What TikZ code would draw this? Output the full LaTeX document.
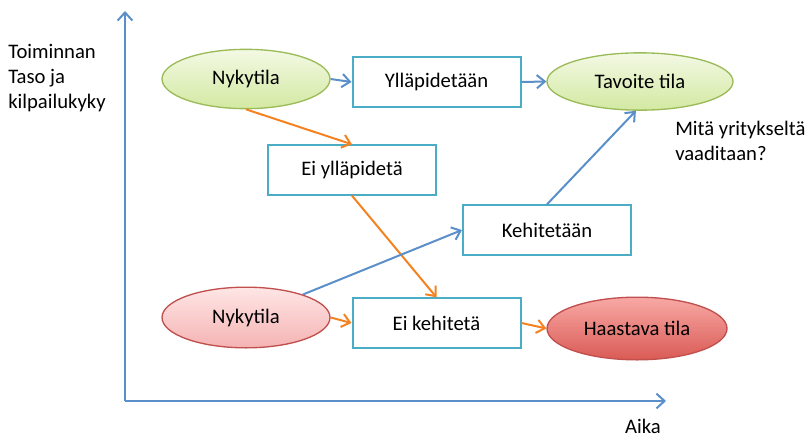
\documentclass[tikz,border=0pt]{standalone}
\usepackage{fontspec}
\setmainfont{Carlito}
\usetikzlibrary{arrows.meta,shapes.geometric}
\definecolor{axisblue}{HTML}{5B8FC9}
\definecolor{flowblue}{HTML}{5B8FC9}
\definecolor{floworange}{HTML}{F58220}
\definecolor{boxline}{HTML}{4BACC6}
\definecolor{greenline}{HTML}{9BBB59}
\definecolor{greentop}{HTML}{F3F9E4}
\definecolor{greenbot}{HTML}{D3E9A2}
\definecolor{redline}{HTML}{C0504D}
\definecolor{pinktop}{HTML}{FFE6E6}
\definecolor{pinkbot}{HTML}{F5B3B3}
\definecolor{hardtop}{HTML}{F8A9A5}
\definecolor{hardbot}{HTML}{DA5A55}
\tikzset{
  every node/.style={font=\fontsize{15.5}{18.75}\selectfont},
  stepbox/.style={draw=boxline, line width=1.5pt, fill=white, minimum width=126pt, minimum height=37pt, inner sep=0pt},
  state/.style={ellipse, line width=1pt, minimum width=126pt, minimum height=44.5pt, inner sep=0pt},
  goodstate/.style={state, draw=greenline, top color=greentop, bottom color=greenbot},
  nowstate/.style={state, draw=redline, top color=pinktop, bottom color=pinkbot, minimum height=45.5pt},
  hardstate/.style={state, draw=redline, top color=hardtop, bottom color=hardbot, minimum width=135pt, minimum height=47pt},
  bluearrow/.style={draw=flowblue, line width=1.5pt, -{Straight Barb[length=6pt,width=10pt]}},
  orangearrow/.style={draw=floworange, line width=1.5pt, -{Straight Barb[length=6pt,width=10pt]}},
  axis/.style={draw=axisblue, line width=1.5pt, -{Straight Barb[length=6pt,width=11pt]}},
  plain/.style={align=left, inner sep=0pt},
}
\begin{document}
\begin{tikzpicture}[x=0.75pt,y=-0.75pt]
\useasboundingbox (0,0) rectangle (809,439);
% axes
\coordinate (origin) at (125,401);
\coordinate (ytop) at (125,11);
\coordinate (xend) at (666,401);
\draw[axis] (origin) -- (ytop);
\draw[axis] (origin) -- (xend);
% axis and side labels (anchored at the baseline of their last line)
\node[plain, anchor=base west] (ylabel) at (8,108) {Toiminnan\\Taso ja\\kilpailukyky};
\node[plain, anchor=base] (xlabel) at (643,433) {Aika};
\node[plain, anchor=base west] (question) at (675,160) {Mitä yritykseltä\\vaaditaan?};
% states and steps
\node[goodstate] (nowgood) at (246,79) {Nykytila};
\node[stepbox] (keep) at (436.5,82) {Ylläpidetään};
\node[goodstate, minimum width=139.5pt, minimum height=43pt] (goal) at (640,81.5) {Tavoite tila};
\node[stepbox] (nokeep) at (352,170) {Ei ylläpidetä};
\node[stepbox] (develop) at (547,230) {Kehitetään};
\node[nowstate] (nowbad) at (246,317.5) {Nykytila};
\node[stepbox] (nodevelop) at (436.5,323) {Ei kehitetä};
\node[hardstate] (hard) at (637,328.5) {Haastava tila};
% connectors
\draw[bluearrow] (nowgood.east) -- (keep.west);
\draw[bluearrow] (keep.east) -- (goal.west);
\draw[orangearrow] (nowgood.south) -- (nokeep.north);
\draw[orangearrow] (nokeep.south) -- (nodevelop.north);
\draw[bluearrow] (nowbad.22) -- (develop.west);
\draw[bluearrow] (develop.north) -- (goal.262);
\draw[orangearrow] (nowbad.east) -- (nodevelop.west);
\draw[orangearrow] (nodevelop.east) -- (hard.west);
\end{tikzpicture}
\end{document}
